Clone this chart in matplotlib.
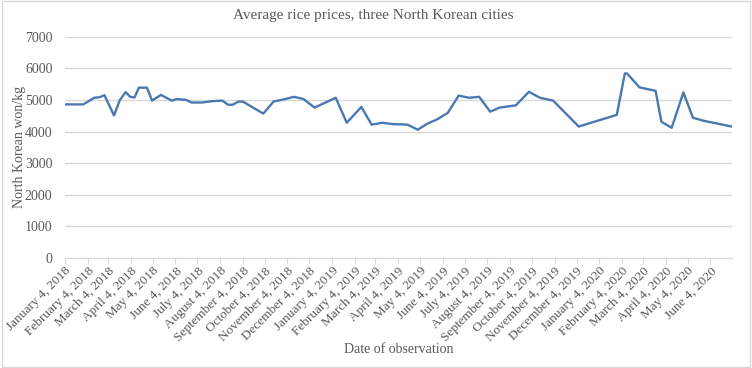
#!/usr/bin/env python
"""Average rice prices, three North Korean cities"""

import matplotlib
matplotlib.use('Agg')
import matplotlib.pyplot as plt
import matplotlib.dates as mdates
from matplotlib.ticker import FuncFormatter, MultipleLocator
from matplotlib.patches import Rectangle
import pandas as pd

# observation dates and prices (won/kg)
dates = [
    '2018-01-04', '2018-01-29', '2018-02-13', '2018-02-20', '2018-02-27',
    '2018-03-12', '2018-03-20', '2018-03-28', '2018-04-03', '2018-04-09',
    '2018-04-15', '2018-04-26', '2018-05-03', '2018-05-15', '2018-05-30',
    '2018-06-06', '2018-06-19', '2018-06-26', '2018-07-10', '2018-07-23',
    '2018-08-07', '2018-08-15', '2018-08-21', '2018-08-29', '2018-09-04',
    '2018-10-02', '2018-10-16', '2018-10-30', '2018-11-13', '2018-11-26',
    '2018-12-11', '2019-01-09', '2019-01-24', '2019-02-13', '2019-02-27',
    '2019-03-14', '2019-03-26', '2019-04-17', '2019-05-01', '2019-05-14',
    '2019-05-27', '2019-06-11', '2019-06-26', '2019-07-10', '2019-07-24',
    '2019-08-08', '2019-08-21', '2019-09-12', '2019-09-30', '2019-10-15',
    '2019-11-02', '2019-12-07', '2020-01-28', '2020-02-08', '2020-02-11',
    '2020-02-28', '2020-03-21', '2020-03-29', '2020-04-12', '2020-04-28',
    '2020-05-11', '2020-05-26', '2020-07-03',
]
prices = [
    4860, 4860, 5070, 5085, 5150,
    4510, 5000, 5250, 5100, 5080,
    5390, 5390, 4980, 5160, 4980,
    5030, 5000, 4920, 4920, 4960,
    4980, 4850, 4850, 4950, 4950,
    4570, 4950, 5020, 5100, 5030,
    4760, 5070, 4280, 4780, 4220,
    4280, 4240, 4220, 4060, 4250,
    4380, 4590, 5140, 5070, 5100,
    4630, 4760, 4830, 5260, 5070,
    4980, 4160, 4530, 5840, 5840,
    5400, 5290, 4310, 4120, 5240,
    4440, 4340, 4160,
]

dates = pd.to_datetime(dates)
grey = '#595959'
light = '#d9d9d9'

plt.rcParams['font.family'] = ['Liberation Serif', 'DejaVu Serif']

fig = plt.figure(figsize=(7.52, 3.68), dpi=100)
ax = fig.add_axes([0.0864, 0.299, 0.8866, 0.601])

ax.plot(dates, prices, color='#4a78b2', lw=1.7, solid_joinstyle='round')

ax.set_xlim(dates[0], dates[-1])
ax.set_ylim(0, 7000)
ax.yaxis.set_major_locator(MultipleLocator(1000))
ax.grid(axis='y', color=light, lw=1)
ax.set_axisbelow(True)

ax.xaxis.set_major_locator(mdates.MonthLocator(bymonthday=4))
ax.xaxis.set_major_formatter(FuncFormatter(
    lambda v, pos: '{0:%B} {0.day}, {0.year}'.format(mdates.num2date(v))))

for s in ['top', 'right', 'left']:
    ax.spines[s].set_visible(False)
ax.spines['bottom'].set_color(light)

ax.tick_params(axis='y', length=0, labelsize=10, labelcolor=grey, pad=9)
ax.tick_params(axis='x', length=4, color=light, labelsize=9.5,
               labelcolor=grey, pad=1)
for lbl in ax.get_xticklabels():
    lbl.set_rotation(45)
    lbl.set_ha('right')
    lbl.set_va('top')
    lbl.set_rotation_mode('anchor')

fig.text(0.496, 0.958, 'Average rice prices, three North Korean cities',
         ha='center', va='center', fontsize=11, color=grey)
fig.text(0.026, 0.60, 'North Korean won/kg', rotation=90,
         ha='center', va='center', fontsize=10, color=grey)
fig.text(0.53, 0.05, 'Date of observation',
         ha='center', va='center', fontsize=10, color=grey)

fig.patches.append(Rectangle((0.002, 0.003), 0.996, 0.994,
                             transform=fig.transFigure, fill=False,
                             edgecolor=light, lw=1))

plt.savefig('out.png', dpi=100)
